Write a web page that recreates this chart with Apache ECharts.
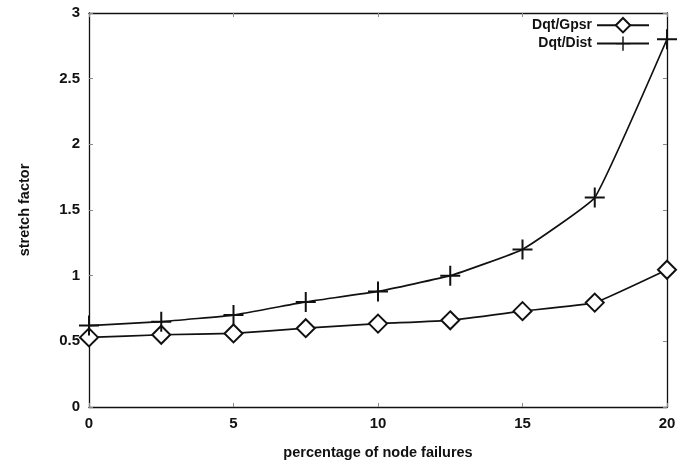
<!DOCTYPE html>
<html><head><meta charset="utf-8">
<script src="https://cdn.jsdelivr.net/npm/echarts@6/dist/echarts.min.js"></script>
<style>html,body{margin:0;padding:0;background:#fff;}#c{width:690px;height:466px;}</style>
</head><body><div id="c"></div>
<script>
const xValues = [0, 2.5, 5, 7.5, 10, 12.5, 15, 17.5, 20];
const gpsr = [0.53, 0.55, 0.56, 0.60, 0.635, 0.66, 0.73, 0.795, 1.045];
const dist = [0.62, 0.65, 0.70, 0.80, 0.88, 1.00, 1.20, 1.595, 2.80];
const seriesNames = ['Dqt/Gpsr', 'Dqt/Dist'];
const xTicks = [0, 5, 10, 15, 20];
const yTicks = [0, 0.5, 1, 1.5, 2, 2.5, 3];

const font = '"Liberation Sans", Arial, sans-serif';
const plus = 'path://M9,0L11,0L11,9L20,9L20,11L11,11L11,20L9,20L9,11L0,11L0,9L9,9Z';
const pair = a => xValues.map((x, i) => [x, a[i]]);
const lbl = {fontFamily: font, fontWeight: 'bold', fontSize: 15, color: '#111'};
const axisLine = {show: true, onZero: false, lineStyle: {color: '#111', width: 1.3}};
const tick = {show: true, inside: true, length: 4, lineStyle: {color: '#888', width: 1}};

const chart = echarts.init(document.getElementById('c'));
chart.setOption({
  backgroundColor: '#fff',
  animation: false,
  grid: {left: 89, right: 23, top: 13, bottom: 59},
  legend: {
    right: 40, top: 17, orient: 'vertical', align: 'right', padding: 0,
    itemWidth: 52, itemHeight: 18, itemGap: 3,
    textStyle: Object.assign({}, lbl, {fontSize: 14}),
    data: seriesNames
  },
  xAxis: [{
    type: 'value', min: 0, max: 20, interval: 5,
    name: 'percentage of node failures', nameLocation: 'middle', nameGap: 38,
    nameTextStyle: Object.assign({}, lbl, {fontSize: 14.5}),
    axisLine, axisTick: tick, splitLine: {show: false},
    axisLabel: Object.assign({}, lbl, {margin: 9})
  }, {
    type: 'value', min: 0, max: 20, interval: 5, position: 'top',
    axisLine, axisTick: tick, splitLine: {show: false}, axisLabel: {show: false}
  }],
  yAxis: [{
    type: 'value', min: 0, max: 3, interval: 0.5,
    name: 'stretch factor', nameLocation: 'middle', nameGap: 57,
    nameTextStyle: Object.assign({}, lbl, {fontSize: 14.5}),
    axisLine, axisTick: tick, splitLine: {show: false},
    axisLabel: Object.assign({}, lbl, {margin: 9})
  }, {
    type: 'value', min: 0, max: 3, interval: 0.5, position: 'right',
    axisLine, axisTick: tick, splitLine: {show: false}, axisLabel: {show: false}
  }],
  series: [{
    name: seriesNames[0], type: 'line', data: pair(gpsr),
    symbol: 'diamond', symbolSize: [18, 18], smooth: 0.1,
    lineStyle: {color: '#111', width: 1.7},
    itemStyle: {color: '#fff', borderColor: '#111', borderWidth: 2}
  }, {
    name: seriesNames[1], type: 'line', data: pair(dist),
    symbol: plus, symbolSize: [20, 20], smooth: 0.1,
    lineStyle: {color: '#111', width: 1.7},
    itemStyle: {color: '#111', borderWidth: 0}
  }]
});
</script></body></html>
